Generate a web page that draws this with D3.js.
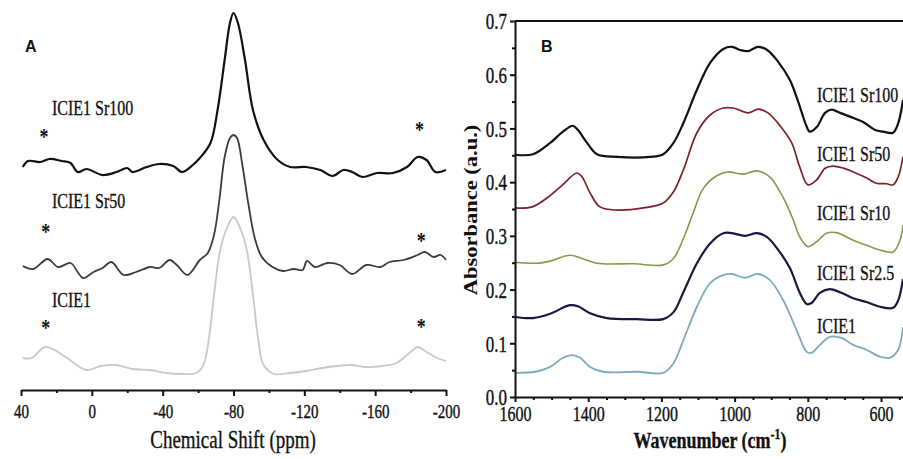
<!DOCTYPE html>
<html>
<head>
<meta charset="utf-8">
<style>
  body { margin: 0; background: #fff; }
</style>
</head>
<body>
<div id="chart"></div>
<script src="https://cdn.jsdelivr.net/npm/d3@7"></script>
<script>
// ---- panel A : 29Si MAS NMR, [ppm, intensity (a.u.)] ----
const nmrNames = ["ICIE1 Sr100", "ICIE1 Sr50", "ICIE1"]
const nmrSr100 = [[39,22.3],[36,22.9],[29,22.8],[24,23.1],[17,22.9],[12,22.7],[8,21.8],[3,22.1],[-6,21.5],[-14,21.8],[-20,22.2],[-23,21.8],[-31,22.3],[-38,22.6],[-46,22.4],[-51,21.8],[-57,22.5],[-61,23.2],[-67,24.7],[-71,28.0],[-75,33.0],[-78,36.7],[-80,37.7],[-82.5,36.7],[-86.5,33.0],[-91,28.0],[-97,25.0],[-105,23.0],[-112,22.3],[-121,22.3],[-129,22.0],[-136,21.4],[-142,22.0],[-147,21.8],[-153,21.3],[-161,21.7],[-170,21.7],[-178,22.3],[-184,23.3],[-189,23.0],[-194,21.8],[-200,22.0]]
const nmrSr50 = [[39,12.4],[33,12.1],[25,13.1],[19,12.3],[12,12.7],[8,11.8],[5,11.2],[-1,11.8],[-6,12.2],[-11,12.8],[-18,11.5],[-25,11.8],[-33,12.3],[-38,12.2],[-44,13.0],[-48,12.5],[-54,11.5],[-61,13.0],[-65.5,13.7],[-69,15.5],[-72,19.0],[-75,23.3],[-78,25.2],[-80,25.5],[-82,25.2],[-85,22.5],[-88.5,18.5],[-92,15.2],[-96,13.3],[-102,12.3],[-108,11.9],[-114,12.1],[-119,12.0],[-121.5,12.9],[-126,12.3],[-133,12.7],[-140,12.5],[-147,11.6],[-155,12.5],[-163,12.3],[-168,12.8],[-176,13.0],[-184,13.5],[-188,13.8],[-193,13.3],[-197,13.5],[-200,13.0]]
const nmrIcie1 = [[39,3.2],[34,3.2],[26.5,4.3],[21,4.0],[14,3.2],[3,2.0],[-5,2.4],[-14,2.5],[-23,2.1],[-33,2.0],[-42,1.7],[-51,1.6],[-59,1.7],[-63,2.5],[-66,5.0],[-69,9.5],[-72.5,14.0],[-76.5,16.3],[-80,17.3],[-83.5,16.3],[-87.5,14.0],[-91,9.5],[-94,5.0],[-97,2.5],[-103,1.6],[-112,1.7],[-121,1.9],[-130,2.2],[-146,2.5],[-155,2.3],[-164,2.4],[-172,2.7],[-180,3.8],[-184,4.3],[-189,3.8],[-195,3.2],[-200,2.9]]
// spinning sidebands marked with *: [ppm, intensity]
const sidebands = [[27,25.7],[-185,26.4],[26,16.2],[-186,15.3],[26,6.6],[-186,6.7]]
const ppmTicks = [40, 0, -40, -80, -120, -160, -200]
const ppmMinor = [20, -20, -60, -100, -140, -180]

// ---- panel B : FTIR, [wavenumber, absorbance] ----
const irNames = ["ICIE1 Sr100", "ICIE1 Sr50", "ICIE1 Sr10", "ICIE1 Sr2.5", "ICIE1"]
const irSr100 = [[1600,0.451],[1551,0.452],[1504,0.473],[1469,0.494],[1442,0.505],[1428,0.497],[1403,0.473],[1376,0.452],[1321,0.447],[1231,0.447],[1195,0.452],[1167,0.473],[1140,0.510],[1103,0.572],[1067,0.622],[1031,0.648],[1007,0.652],[985,0.646],[963,0.644],[936,0.652],[911,0.646],[881,0.624],[849,0.590],[828,0.553],[803,0.503],[795,0.494],[775,0.503],[753,0.529],[735,0.535],[712,0.529],[685,0.522],[649,0.512],[616,0.497],[594,0.494],[567,0.492],[553,0.51],[540,0.553]]
const irSr50 = [[1600,0.352],[1553,0.354],[1504,0.375],[1470,0.395],[1431,0.417],[1417,0.410],[1395,0.380],[1368,0.354],[1321,0.348],[1249,0.352],[1195,0.361],[1167,0.382],[1140,0.423],[1103,0.492],[1067,0.525],[1031,0.538],[1004,0.538],[963,0.529],[936,0.536],[909,0.529],[877,0.506],[844,0.473],[822,0.428],[800,0.395],[776,0.404],[753,0.426],[731,0.430],[703,0.426],[676,0.419],[640,0.408],[613,0.398],[585,0.397],[567,0.395],[553,0.41],[540,0.447]]
const irSr10 = [[1600,0.251],[1540,0.249],[1504,0.253],[1450,0.264],[1413,0.257],[1376,0.249],[1276,0.248],[1195,0.246],[1167,0.258],[1140,0.295],[1112,0.345],[1086,0.388],[1049,0.412],[1019,0.419],[977,0.415],[939,0.421],[904,0.410],[868,0.372],[840,0.330],[822,0.298],[800,0.280],[776,0.289],[749,0.305],[722,0.306],[676,0.292],[630,0.280],[594,0.272],[567,0.270],[548,0.292],[540,0.32]]
const irSr25 = [[1600,0.149],[1551,0.147],[1504,0.155],[1450,0.171],[1428,0.169],[1395,0.156],[1349,0.147],[1267,0.145],[1195,0.145],[1167,0.158],[1140,0.195],[1103,0.249],[1067,0.286],[1031,0.305],[1007,0.305],[972,0.300],[939,0.305],[912,0.298],[881,0.274],[849,0.240],[822,0.194],[803,0.173],[790,0.175],[767,0.194],[740,0.201],[712,0.195],[676,0.184],[640,0.177],[603,0.168],[567,0.166],[553,0.18],[540,0.22]]
const irIcie1 = [[1600,0.045],[1545,0.047],[1504,0.056],[1469,0.073],[1444,0.078],[1422,0.073],[1395,0.056],[1359,0.047],[1267,0.047],[1195,0.045],[1167,0.063],[1140,0.106],[1103,0.168],[1067,0.212],[1031,0.227],[1007,0.229],[972,0.222],[936,0.229],[904,0.218],[868,0.181],[831,0.125],[803,0.084],[790,0.082],[767,0.097],[740,0.112],[708,0.110],[676,0.097],[640,0.088],[603,0.075],[576,0.073],[553,0.088],[540,0.13]]
const absTicks = [0, 0.1, 0.2, 0.3, 0.4, 0.5, 0.6, 0.7]
const wnTicks = [1600, 1400, 1200, 1000, 800, 600]

const W = 903, H = 459
const SY = 1.3   // tall, narrow serif lettering of the original
const SERIF = "'Liberation Serif', 'Times New Roman', serif"
const SANS = "'Liberation Sans', Arial, sans-serif"

const svg = d3.select("#chart").append("svg")
    .attr("width", W).attr("height", H)
    .style("font-family", SERIF)

function label(g, x, y, str, size, opts) {
    opts = opts || {}
    let t = g.append("text")
        .attr("transform", `translate(${x},${y}) scale(1,${SY})`)
        .attr("font-size", size)
        .attr("text-anchor", opts.anchor || "start")
        .attr("font-weight", opts.weight || "normal")
        .attr("fill", "#111")
        .attr("stroke", "#111")
        .attr("stroke-width", 0.25)
        .text(str)
    return t
}

function styleTicks(sel, size) {
    sel.attr("font-size", size)
        .style("font-family", SERIF)
        .attr("fill", "#111")
        .attr("stroke", "#111")
        .attr("stroke-width", 0.3)
}

// ================= panel A =================
let xA = d3.scaleLinear().domain([40, -200]).range([21, 446])
let yA = d3.scaleLinear().domain([0, 38]).range([390, 10])

let gA = svg.append("g")

let lineA = d3.line()
    .x(d => xA(d[0]))
    .y(d => yA(d[1]))
    .curve(d3.curveCatmullRom.alpha(0.5))

let nmrSeries = [nmrSr100, nmrSr50, nmrIcie1]
let nmrColors = ["#111111", "#3c3c3c", "#c9c9c9"]
let nmrWidths = [2.2, 1.8, 1.8]

gA.selectAll("path.spec")
    .data(nmrSeries)
    .enter().append("path")
    .attr("class", "spec")
    .attr("d", d => lineA(d))
    .attr("fill", "none")
    .attr("stroke", (d, i) => nmrColors[i])
    .attr("stroke-width", (d, i) => nmrWidths[i])
    .attr("stroke-linejoin", "round")

// asterisks for sidebands
gA.selectAll("text.star")
    .data(sidebands)
    .enter().append("text")
    .attr("class", "star")
    .attr("transform", d => `translate(${xA(d[0])},${yA(d[1]) + 11}) scale(1,${SY})`)
    .attr("text-anchor", "middle")
    .attr("font-size", 18)
    .attr("font-weight", "bold")
    .attr("fill", "#111")
    .text("*")

// series labels
let nmrLabelY = [27.5, 18.2, 8.3]
nmrNames.forEach((n, i) => label(gA, 52, yA(nmrLabelY[i]), n, 16))

// x axis
let axA = gA.append("g")
    .attr("transform", "translate(0,390)")
    .call(d3.axisBottom(xA).tickValues(ppmTicks).tickSize(6).tickSizeOuter(0).tickFormat(d => String(d)))
axA.select(".domain").attr("stroke", "#111").attr("stroke-width", 2)
axA.selectAll(".tick line").attr("stroke", "#111").attr("stroke-width", 2)
axA.selectAll(".tick text")
    .attr("y", null).attr("dy", null)
    .attr("dominant-baseline", "central")
    .attr("transform", `translate(0,22) scale(1,${SY})`)
    .call(styleTicks, 15)

let axAm = gA.append("g")
    .attr("transform", "translate(0,390)")
    .call(d3.axisBottom(xA).tickValues(ppmMinor).tickSize(3).tickFormat(""))
axAm.select(".domain").remove()
axAm.selectAll(".tick line").attr("stroke", "#111").attr("stroke-width", 2)

label(gA, 233, 448, "Chemical Shift (ppm)", 19, { anchor: "middle" })

gA.append("text")
    .attr("x", 25).attr("y", 52)
    .style("font-family", SANS)
    .attr("font-weight", "bold")
    .attr("font-size", 16)
    .attr("fill", "#111")
    .text("A")

// ================= panel B =================
let xB = d3.scaleLinear().domain([1600, 540]).range([515, 903])
let yB = d3.scaleLinear().domain([0, 0.7]).range([397, 21])

let gB = svg.append("g")

let lineB = d3.line()
    .x(d => xB(d[0]))
    .y(d => yB(d[1]))
    .curve(d3.curveCatmullRom.alpha(0.5))

let irSeries = [irSr100, irSr50, irSr10, irSr25, irIcie1]
let irColors = ["#111111", "#7c2228", "#7f9d48", "#181840", "#7eaab9"]
let irWidths = [2.2, 1.7, 1.6, 2.2, 1.8]

gB.selectAll("path.spec")
    .data(irSeries)
    .enter().append("path")
    .attr("class", "spec")
    .attr("d", d => lineB(d))
    .attr("fill", "none")
    .attr("stroke", (d, i) => irColors[i])
    .attr("stroke-width", (d, i) => irWidths[i])
    .attr("stroke-linejoin", "round")

let irLabelY = [0.549, 0.439, 0.329, 0.218, 0.119]
irNames.forEach((n, i) => label(gB, xB(775), yB(irLabelY[i]), n, 16))

// frame top
gB.append("line")
    .attr("x1", xB(1600)).attr("x2", W)
    .attr("y1", yB(0.7)).attr("y2", yB(0.7))
    .attr("stroke", "#111").attr("stroke-width", 2)

// y axis
let ayB = gB.append("g")
    .attr("transform", `translate(${xB(1600)},0)`)
    .call(d3.axisLeft(yB).tickValues(absTicks).tickSize(5).tickSizeOuter(0).tickFormat(d3.format(".1f")))
ayB.select(".domain").attr("stroke", "#111").attr("stroke-width", 2)
ayB.selectAll(".tick line").attr("stroke", "#111").attr("stroke-width", 2)
ayB.selectAll(".tick text")
    .attr("x", null).attr("dy", null)
    .attr("dominant-baseline", "central")
    .attr("transform", `translate(-8,0) scale(1,${SY})`)
    .call(styleTicks, 17)

let ayBm = gB.append("g")
    .attr("transform", `translate(${xB(1600)},0)`)
    .call(d3.axisLeft(yB).tickValues(absTicks.slice(0, -1).map(d => d + 0.05)).tickSize(3).tickFormat(""))
ayBm.select(".domain").remove()
ayBm.selectAll(".tick line").attr("stroke", "#111").attr("stroke-width", 2)

// x axis
let axB = gB.append("g")
    .attr("transform", `translate(0,${yB(0)})`)
    .call(d3.axisBottom(xB).tickValues(wnTicks).tickSize(5).tickSizeOuter(0).tickFormat(d => String(d)))
axB.select(".domain").attr("stroke", "#111").attr("stroke-width", 2)
axB.selectAll(".tick line").attr("stroke", "#111").attr("stroke-width", 2)
axB.selectAll(".tick text")
    .attr("y", null).attr("dy", null)
    .attr("dominant-baseline", "central")
    .attr("transform", `translate(0,17) scale(1,${SY})`)
    .call(styleTicks, 16)

let wnMinor = d3.range(1550, 540, -50).filter(d => d % 200 !== 0)
let axBm = gB.append("g")
    .attr("transform", `translate(0,${yB(0)})`)
    .call(d3.axisBottom(xB).tickValues(wnMinor).tickSize(3).tickFormat(""))
axBm.select(".domain").remove()
axBm.selectAll(".tick line").attr("stroke", "#111").attr("stroke-width", 2)

// axis titles
let xt = label(gB, 710, 448, "", 18, { anchor: "middle", weight: "bold" })
xt.append("tspan").text("Wavenumber (cm")
xt.append("tspan").attr("dy", -7).attr("font-size", 12).text("-1")
xt.append("tspan").attr("dy", 7).text(")")

gB.append("text")
    .attr("transform", "translate(477,210) rotate(-90) scale(1.25,1)")
    .attr("text-anchor", "middle")
    .attr("font-size", 18)
    .attr("font-weight", "bold")
    .attr("fill", "#111")
    .text("Absorbance (a.u.)")

gB.append("text")
    .attr("x", 541).attr("y", 52)
    .style("font-family", SANS)
    .attr("font-weight", "bold")
    .attr("font-size", 16)
    .attr("fill", "#111")
    .text("B")
</script>
</body>
</html>
